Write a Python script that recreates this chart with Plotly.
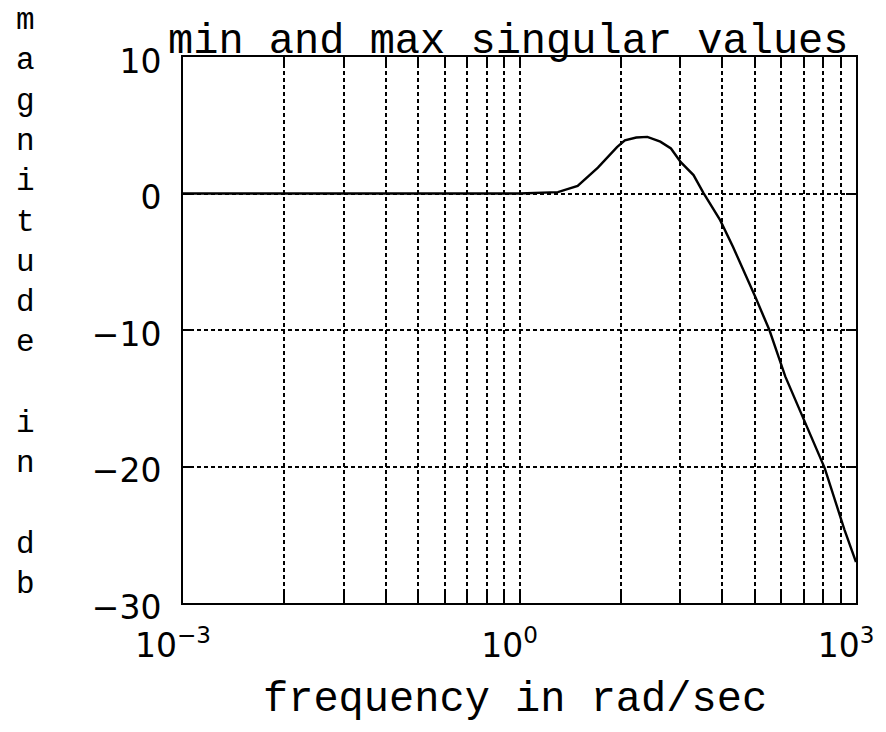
import plotly.graph_objects as go

# ---- data ----
freq = [0.001, 0.01, 0.1, 1.0, 2.2, 3.3, 5.0, 7.4, 8.7, 11.0, 13.8, 18.0,
        22.4, 27.4, 35.6, 43.6, 61.5, 80.0, 127.0, 169.0, 234.0, 365.0,
        525.0, 787.0, 1000.0]
mag_db = [0.0, 0.0, 0.0, 0.0, 0.1, 0.55, 1.9, 3.4, 3.9, 4.1, 4.15, 3.8,
          3.3, 2.3, 1.35, 0.05, -1.95, -3.9, -7.6, -10.0, -13.4, -17.1,
          -20.1, -24.6, -27.0]

x_tickvals = [0.001, 0.008, 0.027, 0.064, 0.125, 0.216, 0.343, 0.512, 0.729,
              1.0, 8.0, 27.0, 64.0, 125.0, 216.0, 343.0, 512.0, 729.0, 1000.0]
x_ticktext = ["10<sup>−3</sup>", "", "", "", "", "", "", "", "",
              "10<sup>0</sup>", "", "", "", "", "", "", "", "",
              "10<sup>3</sup>"]
y_tickvals = [-30, -20, -10, 0, 10]
y_ticktext = ["−30", "−20", "−10", "0", "10"]

title_text = "min and max singular values"
xlabel_text = "frequency in rad/sec"
ylabel_letters = ["m", "a", "g", "n", "i", "t", "u", "d", "e", " ",
                  "i", "n", " ", "d", "b"]

MONO = "Liberation Mono, Courier New, monospace"
SANS = "DejaVu Sans, sans-serif"

fig = go.Figure()
fig.add_trace(go.Scatter(x=freq, y=mag_db, mode="lines",
                         line=dict(color="black", width=2.4),
                         showlegend=False, hoverinfo="skip"))

axis_common = dict(
    showline=True, linecolor="black", linewidth=2, mirror="ticks",
    ticks="inside", ticklen=10, tickwidth=2, tickcolor="black",
    showgrid=True, gridcolor="black", gridwidth=2, griddash="4px,3px",
    zeroline=False,
)

fig.update_xaxes(type="log", range=[-3, 3], tickmode="array",
                 tickvals=x_tickvals, ticktext=x_ticktext,
                 tickfont=dict(family=SANS, size=33, color="black"),
                 ticklabelstandoff=12, ticklabelshift=-10,
                 **axis_common)
fig.update_yaxes(range=[-30, 10], tickmode="array",
                 tickvals=y_tickvals, ticktext=y_ticktext,
                 tickfont=dict(family=SANS, size=33, color="black"),
                 ticklabelstandoff=13, ticklabelshift=4,
                 **axis_common)

fig.add_annotation(text=title_text, xref="paper", yref="paper",
                   x=0.483, y=1.0, xanchor="center", yanchor="bottom",
                   yshift=-11, showarrow=False,
                   font=dict(family=MONO, size=42, color="black"))
fig.add_annotation(text=xlabel_text, xref="paper", yref="paper",
                   x=0.493, y=-0.178, xanchor="center", yanchor="middle",
                   showarrow=False,
                   font=dict(family=MONO, size=42, color="black"))
fig.add_annotation(text="<br>".join(ylabel_letters), xref="paper", yref="paper",
                   x=-0.234, y=0.551, xanchor="center", yanchor="middle",
                   showarrow=False, align="center",
                   font=dict(family=MONO, size=31, color="black"))

fig.update_layout(width=886, height=732,
                  margin=dict(l=183, r=20, t=57, b=129),
                  paper_bgcolor="white", plot_bgcolor="white")

fig.write_html("out.html")
